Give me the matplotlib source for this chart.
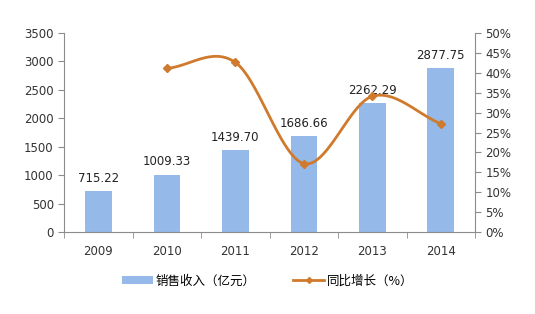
import numpy as np
import matplotlib.pyplot as plt
plt.rcParams['font.family'] = ['DejaVu Sans', 'Noto Sans CJK SC']

years = ['2009', '2010', '2011', '2012', '2013', '2014']
revenue = [715.22, 1009.33, 1439.70, 1686.66, 2262.29, 2877.75]
growth_years = ['2010', '2011', '2012', '2013', '2014']
growth = [41.1, 42.6, 17.2, 34.1, 27.2]

bar_color = '#95B9E8'
line_color = '#CF7A2C'
axis_color = '#8C8C8C'


def smooth(xs, ys, n=30):
    # catmull-rom 平滑曲线（类似Excel平滑线）
    xs = np.asarray(xs, float)
    ys = np.asarray(ys, float)
    px = np.concatenate([[2 * xs[0] - xs[1]], xs, [2 * xs[-1] - xs[-2]]])
    py = np.concatenate([[2 * ys[0] - ys[1]], ys, [2 * ys[-1] - ys[-2]]])
    ox, oy = [], []
    for i in range(1, len(px) - 2):
        t = np.linspace(0, 1, n)
        for p, o in ((px, ox), (py, oy)):
            p0, p1, p2, p3 = p[i - 1], p[i], p[i + 1], p[i + 2]
            o.extend(0.5 * (2 * p1 + (-p0 + p2) * t + (2 * p0 - 5 * p1 + 4 * p2 - p3) * t ** 2
                            + (-p0 + 3 * p1 - 3 * p2 + p3) * t ** 3))
    return np.array(ox), np.array(oy)


fig = plt.figure(figsize=(5.35, 3.14), dpi=100)
ax = fig.add_axes([0.12, 0.261, 0.768, 0.634])
x = np.arange(len(years))
bars = ax.bar(x, revenue, width=0.39, color=bar_color, label='销售收入（亿元）', zorder=2)
for xi, v in zip(x, revenue):
    ax.text(xi, v + 110, '%.2f' % v, ha='center', va='bottom', fontsize=8.5, color='#222222')

ax.set_xlim(-0.5, len(years) - 0.5)
ax.set_ylim(0, 3500)
ax.set_yticks(range(0, 3501, 500))
ax.set_xticks(x)
ax.set_xticklabels(years)
ax.set_xticks(np.arange(-0.5, len(years), 1), minor=True)
ax.tick_params(axis='x', which='major', length=0, pad=9)
ax.tick_params(axis='x', which='minor', length=4, color=axis_color, direction='out')
ax.tick_params(axis='y', length=4, color=axis_color, labelsize=8.5, labelcolor='#333333')
ax.tick_params(axis='x', labelsize=8.5, labelcolor='#333333')
for s in ['top', 'right']:
    ax.spines[s].set_visible(False)
for s in ['left', 'bottom']:
    ax.spines[s].set_color(axis_color)

ax2 = ax.twinx()
gx = np.array([years.index(g) for g in growth_years])
sx, sy = smooth(gx, growth)
ax2.plot(sx, sy, color=line_color, lw=2, zorder=3)
ax2.plot(gx, growth, ls='none', marker='D', ms=4, color=line_color, zorder=4)
ax2.set_ylim(0, 50)
ax2.set_yticks(range(0, 51, 5))
ax2.set_yticklabels(['%d%%' % v for v in range(0, 51, 5)])
ax2.tick_params(axis='y', length=4, color=axis_color, labelsize=8.5, labelcolor='#333333')
for s in ['top', 'left', 'bottom']:
    ax2.spines[s].set_visible(False)
ax2.spines['right'].set_color(axis_color)

# 图例
line_proxy, = ax2.plot([], [], color=line_color, lw=2, marker='D', ms=3, label='同比增长（%）')
fig.legend(handles=[bars, line_proxy], labels=['销售收入（亿元）', '同比增长（%）'],
           loc='center', bbox_to_anchor=(0.5, 0.105), ncol=2, frameon=False,
           prop={'family': ['Noto Sans CJK SC'], 'size': 9}, handlelength=2.5,
           handleheight=0.6, columnspacing=3, handletextpad=0.2)

fig.savefig('out.png', dpi=100)
